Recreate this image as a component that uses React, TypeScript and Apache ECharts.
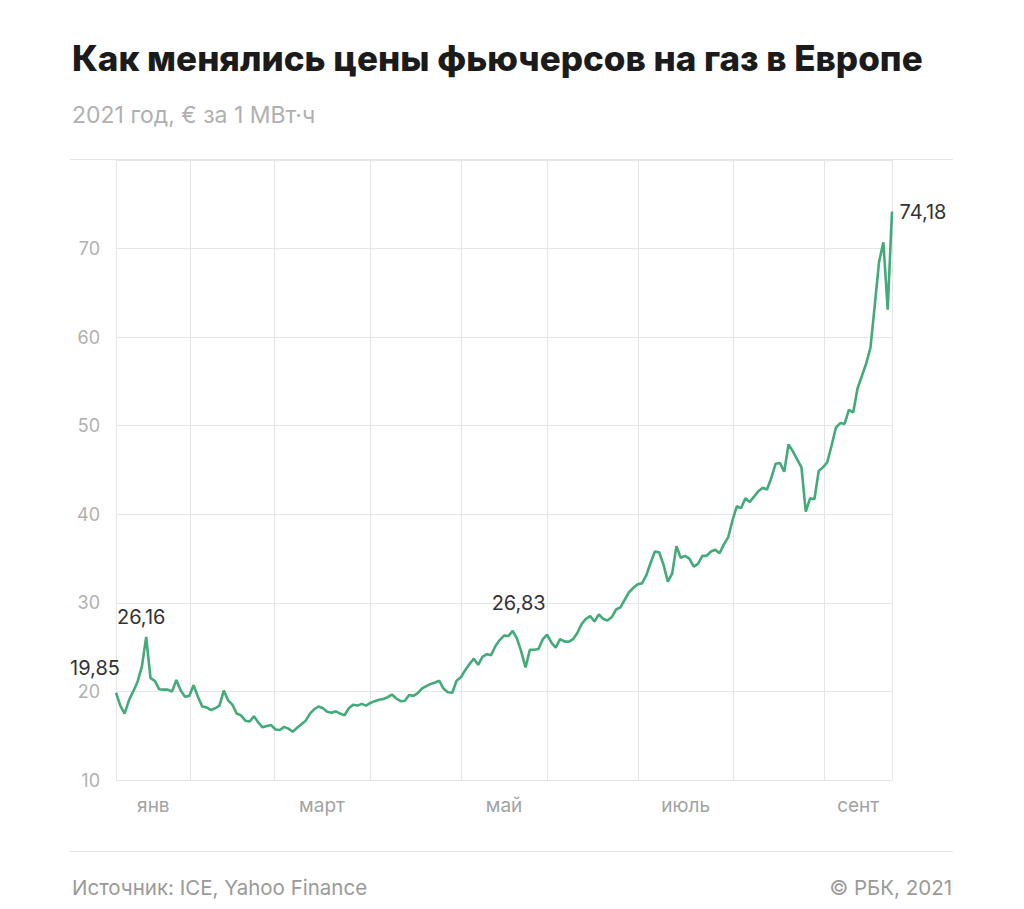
import React, { useEffect, useRef } from "react";
import * as echarts from "echarts";

// Daily futures prices (EUR per MWh), trading-day index order
const prices: number[] = [
  19.85, 18.4, 17.5, 19.0, 20.0, 21.1, 22.8, 26.16, 21.5, 21.2,
  20.25, 20.2, 20.2, 20.0, 21.3, 20.1, 19.4, 19.5, 20.7, 19.4,
  18.3, 18.2, 17.9, 18.1, 18.4, 20.1, 19.0, 18.5, 17.5, 17.3,
  16.7, 16.6, 17.2, 16.5, 15.95, 16.1, 16.2, 15.7, 15.65, 16.0,
  15.8, 15.45, 15.9, 16.3, 16.7, 17.5, 18.0, 18.3, 18.1, 17.7,
  17.6, 17.75, 17.5, 17.3, 18.1, 18.5, 18.4, 18.6, 18.4, 18.7,
  18.9, 19.05, 19.15, 19.35, 19.65, 19.2, 18.9, 18.95, 19.6, 19.5,
  19.8, 20.35, 20.6, 20.85, 21.0, 21.2, 20.3, 19.9, 19.85, 21.2,
  21.6, 22.4, 23.1, 23.7, 23.0, 23.9, 24.2, 24.1, 25.1, 25.8,
  26.3, 26.25, 26.83, 26.0, 24.5, 22.7, 24.7, 24.7, 24.8, 25.9,
  26.4, 25.5, 24.95, 25.9, 25.65, 25.6, 25.9, 26.6, 27.6, 28.2,
  28.5, 27.9, 28.7, 28.2, 28.0, 28.4, 29.25, 29.5, 30.35, 31.2,
  31.7, 32.1, 32.2, 33.1, 34.5, 35.8, 35.7, 34.3, 32.4, 33.3,
  36.4, 35.1, 35.3, 35.0, 34.1, 34.4, 35.3, 35.3, 35.8, 36.0,
  35.6, 36.6, 37.4, 39.3, 40.9, 40.7, 41.8, 41.4, 42.0, 42.6,
  43.0, 42.8, 44.1, 45.7, 45.8, 44.8, 47.9, 47.1, 46.2, 45.3,
  40.3, 41.8, 41.7, 44.9, 45.3, 45.9, 47.8, 49.8, 50.3, 50.2,
  51.8, 51.5, 54.2, 55.6, 57.0, 58.8, 63.6, 68.5, 70.7, 63.1,
  74.18,
];

// Month boundaries on the trading-day index axis
const monthNames: string[] = ["янв", "фев", "март", "апр", "май", "июнь", "июль", "авг", "сент"];
const monthEdges: number[] = [0, 17.33, 36.65, 58.92, 80.03, 99.98, 121.1, 143.2, 164.3, 180];
const labeledMonths: number[] = [0, 2, 4, 6, 8];

// Annotated points (index into prices)
const annotated: number[] = [0, 7, 92, 180];

const yTicks: number[] = [10, 20, 30, 40, 50, 60, 70, 80];

const TITLE = "Как менялись цены фьючерсов на газ в Европе";
const SUBTITLE = "2021 год, € за 1 МВт·ч";
const SOURCE = "Источник: ICE, Yahoo Finance";
const COPYRIGHT = "© РБК, 2021";

const labelPlacement: Record<number, { position: string; offset: number[] }> = {
  0: { position: "top", offset: [-21, -9] },
  7: { position: "top", offset: [-5, -4] },
  92: { position: "top", offset: [6, -12] },
  180: { position: "right", offset: [2, 0] },
};

export default function App() {
  const ref = useRef<HTMLDivElement>(null);

  useEffect(() => {
    document.body.style.margin = "0";
    if (!ref.current) return;
    const chart = echarts.init(ref.current, null, { renderer: "svg" });

    const labelCenters = labeledMonths.map((m) => (monthEdges[m] + monthEdges[m + 1]) / 2);
    const fmt = (v: number) => v.toFixed(2).replace(".", ",");

    const option: any = {
      animation: false,
      backgroundColor: "#ffffff",
      grid: { left: 116, right: 132, top: 160, bottom: 129, containLabel: false },
      xAxis: {
        type: "value",
        min: monthEdges[0],
        max: monthEdges[monthEdges.length - 1],
        axisLine: { show: false },
        axisTick: { show: false, customValues: monthEdges },
        splitLine: { show: true, lineStyle: { color: "#e6e6e6", width: 1 } },
        axisLabel: {
          show: true,
          customValues: labelCenters,
          margin: 16,
          color: "#a3a3a3",
          fontSize: 19,
          fontFamily: "Inter",
          formatter: (value: number) => {
            const k = labelCenters.findIndex((c) => Math.abs(c - value) < 0.01);
            return k >= 0 ? monthNames[labeledMonths[k]] : "";
          },
        },
      },
      yAxis: {
        type: "value",
        min: yTicks[0],
        max: yTicks[yTicks.length - 1],
        interval: 10,
        axisLine: { show: false },
        axisTick: { show: false },
        splitLine: { show: true, lineStyle: { color: "#e6e6e6", width: 1 } },
        axisLabel: {
          margin: 16,
          color: "#b0b0b0",
          fontSize: 18,
          fontFamily: "Inter",
          formatter: (v: number) => (v === 80 ? "" : String(v)),
        },
      },
      series: [
        {
          type: "line",
          data: prices.map((v, i) => [i, v]),
          showSymbol: false,
          lineStyle: { color: "#43aa79", width: 2.6 },
          itemStyle: { color: "#43aa79" },
          emphasis: { disabled: true },
          markPoint: {
            symbol: "circle",
            symbolSize: 1,
            itemStyle: { color: "rgba(0,0,0,0)" },
            silent: true,
            data: annotated.map((i) => ({
              coord: [i, prices[i]],
              value: prices[i],
              label: {
                show: true,
                position: labelPlacement[i].position,
                offset: labelPlacement[i].offset,
                distance: 5,
                formatter: fmt(prices[i]),
                color: "#333333",
                fontSize: 20,
                fontFamily: "Inter",
              },
            })),
          },
        },
      ],
      graphic: [
        {
          type: "text",
          x: 72,
          y: 58,
          style: {
            text: TITLE,
            font: "800 35px Inter",
            fill: "#1b1b1b",
            textVerticalAlign: "middle",
          },
        },
        {
          type: "text",
          x: 72,
          y: 115,
          style: {
            text: SUBTITLE,
            font: "23px Inter",
            fill: "#b0b0b0",
            textVerticalAlign: "middle",
          },
        },
        {
          type: "line",
          shape: { x1: 70, y1: 159.5, x2: 953, y2: 159.5 },
          style: { stroke: "#e6e6e6", lineWidth: 1 },
        },
        {
          type: "line",
          shape: { x1: 70, y1: 851.5, x2: 953, y2: 851.5 },
          style: { stroke: "#e6e6e6", lineWidth: 1 },
        },
        {
          type: "text",
          x: 72,
          y: 887,
          style: {
            text: SOURCE,
            font: "20.5px Inter",
            fill: "#9a9a9a",
            textVerticalAlign: "middle",
          },
        },
        {
          type: "text",
          x: 952,
          y: 887,
          style: {
            text: COPYRIGHT,
            font: "20.5px Inter",
            fill: "#9a9a9a",
            textAlign: "right",
            textVerticalAlign: "middle",
          },
        },
      ],
    };

    chart.setOption(option);
    return () => chart.dispose();
  }, []);

  return <div ref={ref} style={{ width: 1024, height: 909 }} />;
}
